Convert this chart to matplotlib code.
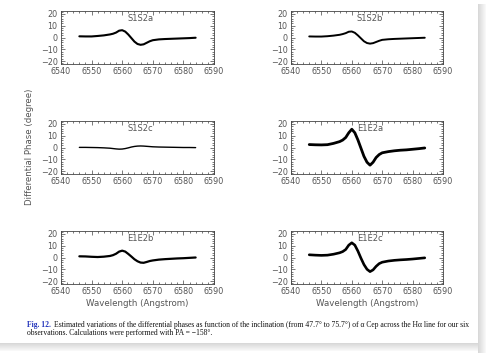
import matplotlib
matplotlib.use("Agg")
import matplotlib.pyplot as plt
from matplotlib.patches import Rectangle
from matplotlib.ticker import MultipleLocator

wavelength = [6546, 6548, 6550, 6552, 6554, 6556, 6557, 6558, 6559, 6560, 6561,
              6562, 6563, 6564, 6565, 6566, 6567, 6568, 6569, 6570, 6572, 6574,
              6576, 6578, 6580, 6582, 6584]

s1s2a = [1.0, 0.9, 0.9, 1.3, 1.8, 2.6, 3.2, 4.2, 5.8, 6.2, 5.0, 2.5, -0.5, -3.5,
         -5.5, -6.2, -5.8, -4.5, -3.2, -2.3, -1.6, -1.3, -1.1, -0.9, -0.7, -0.5, -0.2]
s1s2b = [0.9, 0.8, 0.8, 1.1, 1.6, 2.3, 2.9, 3.7, 4.9, 5.1, 4.0, 1.8, -0.7, -3.2,
         -4.7, -5.2, -4.8, -3.8, -2.8, -2.0, -1.5, -1.2, -1.0, -0.8, -0.6, -0.4, -0.2]
s1s2c = [0.1, 0.1, 0.0, -0.1, -0.3, -0.6, -0.9, -1.2, -1.4, -1.3, -0.9, -0.3, 0.4,
         0.9, 1.2, 1.3, 1.2, 1.0, 0.8, 0.6, 0.4, 0.3, 0.2, 0.1, 0.0, 0.0, -0.1]
e1e2a = [2.5, 2.3, 2.2, 2.4, 3.5, 5.0, 6.3, 8.5, 12.5, 15.5, 12.5, 6.5, -0.5, -7.5,
         -12.5, -15.0, -12.5, -8.5, -6.0, -4.5, -3.5, -2.8, -2.3, -2.0, -1.5, -1.0, -0.4]
e1e2b = [1.0, 0.9, 0.6, 0.4, 0.7, 1.3, 2.0, 3.2, 5.0, 5.8, 5.0, 3.0, 0.8, -1.5,
         -3.2, -4.3, -4.5, -3.8, -3.0, -2.5, -1.8, -1.4, -1.1, -0.8, -0.6, -0.3, 0.0]
e1e2c = [2.3, 2.0, 1.8, 2.0, 2.8, 4.0, 5.0, 6.8, 10.5, 12.5, 10.5, 5.5, -0.5, -6.0,
         -10.0, -12.0, -10.5, -7.5, -5.2, -4.0, -3.0, -2.4, -2.0, -1.7, -1.3, -0.8, -0.3]

panel_titles = ["S1S2a", "S1S2b", "S1S2c", "E1E2a", "E1E2b", "E1E2c"]
panel_data = [s1s2a, s1s2b, s1s2c, e1e2a, e1e2b, e1e2c]
line_widths = [1.5, 1.4, 1.0, 2.0, 1.6, 1.9]
x_ticks = [6540, 6550, 6560, 6570, 6580, 6590]
y_ticks = [-20, -10, 0, 10, 20]

TXT = "#555555"
AX = "#444444"

fig = plt.figure(figsize=(4.88, 3.53), dpi=100)
W, H = 488, 353

def rect(x0, y0, w, h):
    return [x0 / W, 1 - (y0 + h) / H, w / W, h / H]

positions = [rect(61, 11, 153, 53), rect(291, 11, 152, 53),
             rect(61, 121, 153, 53), rect(291, 121, 152, 53),
             rect(61, 231, 153, 53), rect(291, 231, 152, 53)]

for i, (pos, title, vals, lw) in enumerate(zip(positions, panel_titles, panel_data, line_widths)):
    ax = fig.add_axes(pos)
    ax.plot(wavelength, vals, color="black", lw=lw, solid_capstyle="round",
            solid_joinstyle="round")
    ax.set_xlim(6540, 6590)
    ax.set_ylim(-22.5, 22.5)
    ax.set_xticks(x_ticks)
    ax.set_yticks(y_ticks)
    ax.xaxis.set_minor_locator(MultipleLocator(2))
    ax.yaxis.set_minor_locator(MultipleLocator(2))
    ax.tick_params(which="both", direction="in", top=True, right=True,
                   colors=AX, labelcolor=TXT, labelsize=5.8, width=0.5)
    ax.tick_params(which="major", length=3, pad=2.5)
    ax.tick_params(which="minor", length=1.2)
    for sp in ax.spines.values():
        sp.set_color(AX)
        sp.set_linewidth(0.6)
    ax.text(0.52, 0.95, title, transform=ax.transAxes, ha="center", va="top",
            fontsize=6, color=TXT)
    if i >= 4:
        ax.set_xlabel("Wavelength (Angstrom)", fontsize=6.2, color=TXT, labelpad=2)

fig.text(30 / W, 1 - 147 / H, "Differential Phase (degree)", rotation=90,
         ha="center", va="center", fontsize=6.2, color=TXT)

cap_x = 27 / W
fs = 5.5
fig.text(cap_x, 1 - 325 / H, "Fig. 12.", fontsize=fs, color="#2233bb",
         fontweight="bold", family="Liberation Serif", va="center")
fig.text(cap_x + 27 / W, 1 - 325 / H,
         "Estimated variations of the differential phases as function of the inclination "
         "(from 47.7\u00b0 to 75.7\u00b0) of \u03b1 Cep across the H\u03b1 line for our six",
         fontsize=fs, color="#111111", family=["Liberation Serif", "DejaVu Serif"], va="center")
fig.text(cap_x, 1 - 333 / H,
         "observations. Calculations were performed with PA = \u2212158\u00b0.",
         fontsize=fs, color="#111111", family="Liberation Serif", va="center")

# page shadow
for k in range(8):
    fig.patches.append(Rectangle(((478 + k) / W, 0), 1 / W, 1 - 4 / H,
                                 transform=fig.transFigure, color="gray",
                                 alpha=max(0.0, 0.30 - 0.035 * k), lw=0))
    fig.patches.append(Rectangle((0, (9 - k) / H), 478 / W, 1 / H,
                                 transform=fig.transFigure, color="gray",
                                 alpha=max(0.0, 0.30 - 0.035 * k), lw=0))

fig.savefig("out.png", dpi=100)
